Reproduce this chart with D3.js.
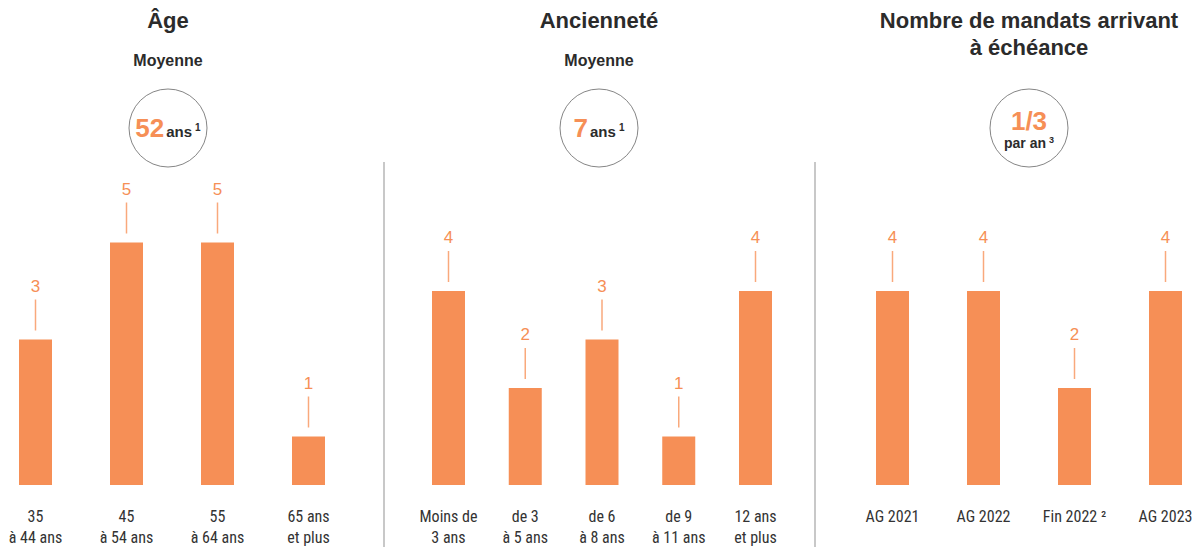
<!DOCTYPE html>
<html>
<head>
<meta charset="utf-8">
<script src="https://cdn.jsdelivr.net/npm/d3@7"></script>
<style>
  body { margin: 0; background: #fff; }
  text { font-family: "Liberation Sans", Arial, sans-serif; }
  .cat { font-family: "Liberation Sans Narrow", "Roboto Condensed", "Liberation Sans", sans-serif; font-stretch: condensed; font-size: 16px; fill: #333; }
</style>
</head>
<body>
<div id="vis"></div>
<script>
// data
var ageCats = ["35|à 44 ans", "45|à 54 ans", "55|à 64 ans", "65 ans|et plus"];
var ageVals = [3, 5, 5, 1];
var ancCats = ["Moins de|3 ans", "de 3|à 5 ans", "de 6|à 8 ans", "de 9|à 11 ans", "12 ans|et plus"];
var ancVals = [4, 2, 3, 1, 4];
var mandCats = ["AG 2021", "AG 2022", "Fin 2022 ²", "AG 2023"];
var mandVals = [4, 4, 2, 4];
var titles = [["Âge"], ["Ancienneté"], ["Nombre de mandats arrivant", "à échéance"]];

var width = 1199, height = 547;
var orange = "#f68f56", dark = "#2b2b2b";

var svg = d3.select("#vis").append("svg")
    .attr("width", width)
    .attr("height", height);

// shared value scale
var y = d3.scaleLinear().domain([0, 5]).range([485, 242.5]);
var barW = 33;

var panels = [
  {cats: ageCats, vals: ageVals, range: [35.5, 308.5], cx: 168, title: titles[0]},
  {cats: ancCats, vals: ancVals, range: [448.5, 755.5], cx: 599, title: titles[1]},
  {cats: mandCats, vals: mandVals, range: [892.5, 1165.5], cx: 1029, title: titles[2]}
];

// separators
[384, 815].forEach(function(sx) {
  svg.append("line")
    .attr("x1", sx).attr("x2", sx)
    .attr("y1", 162).attr("y2", height)
    .attr("stroke", "#c8c8c8").attr("stroke-width", 2);
});

panels.forEach(function(p, pi) {
  var x = d3.scalePoint().domain(p.cats).range(p.range);
  var data = p.cats.map(function(c, i) { return {cat: c, val: p.vals[i]}; });
  var g = svg.append("g");

  // title
  p.title.forEach(function(t, i) {
    g.append("text")
      .attr("x", p.cx).attr("y", 28 + i * 27)
      .attr("text-anchor", "middle")
      .attr("font-size", 22).attr("font-weight", "bold")
      .attr("fill", dark)
      .text(t);
  });
  if (pi < 2) {
    g.append("text")
      .attr("x", p.cx).attr("y", 66)
      .attr("text-anchor", "middle")
      .attr("font-size", 16).attr("font-weight", "bold")
      .attr("fill", dark)
      .text("Moyenne");
  }

  // circle
  g.append("circle")
    .attr("cx", p.cx).attr("cy", 128).attr("r", 39)
    .attr("fill", "none").attr("stroke", "#666").attr("stroke-width", 0.8);

  if (pi < 2) {
    var t = g.append("text")
      .attr("x", p.cx).attr("y", 137)
      .attr("text-anchor", "middle");
    t.append("tspan").attr("font-size", 26).attr("font-weight", "bold").attr("fill", orange)
      .text(pi === 0 ? "52" : "7");
    t.append("tspan").attr("font-size", 15).attr("font-weight", "bold").attr("fill", dark)
      .attr("dx", 2).text("ans");
    t.append("tspan").attr("font-size", 10).attr("font-weight", "bold").attr("fill", dark)
      .attr("dx", 3).attr("dy", -6).text("1");
  } else {
    g.append("text")
      .attr("x", p.cx).attr("y", 130)
      .attr("text-anchor", "middle")
      .attr("font-size", 26).attr("font-weight", "bold").attr("fill", orange)
      .text("1/3");
    var t2 = g.append("text")
      .attr("x", p.cx).attr("y", 148)
      .attr("text-anchor", "middle");
    t2.append("tspan").attr("font-size", 14).attr("font-weight", "bold").attr("fill", dark).text("par an");
    t2.append("tspan").attr("font-size", 9).attr("font-weight", "bold").attr("fill", dark)
      .attr("dx", 3).attr("dy", -5).text("3");
  }

  // bars
  g.selectAll("rect")
    .data(data)
    .enter()
    .append("rect")
      .attr("x", function(d) { return x(d.cat) - barW / 2; })
      .attr("y", function(d) { return y(d.val); })
      .attr("width", barW)
      .attr("height", function(d) { return y(0) - y(d.val); })
      .attr("fill", orange);

  // leader lines
  g.selectAll("line.lead")
    .data(data)
    .enter()
    .append("line")
      .attr("class", "lead")
      .attr("x1", function(d) { return x(d.cat); })
      .attr("x2", function(d) { return x(d.cat); })
      .attr("y1", function(d) { return y(d.val) - 40; })
      .attr("y2", function(d) { return y(d.val) - 9; })
      .attr("stroke", "#f9a97c").attr("stroke-width", 1.5);

  // value labels
  g.selectAll("text.val")
    .data(data)
    .enter()
    .append("text")
      .attr("class", "val")
      .attr("x", function(d) { return x(d.cat); })
      .attr("y", function(d) { return y(d.val) - 48; })
      .attr("text-anchor", "middle")
      .attr("font-size", 17).attr("fill", orange)
      .text(function(d) { return d.val; });

  // category labels
  var cl = g.selectAll("text.cat")
    .data(data)
    .enter()
    .append("text")
      .attr("class", "cat")
      .attr("text-anchor", "middle");
  cl.each(function(d) {
    var lines = d.cat.split("|");
    var el = d3.select(this);
    lines.forEach(function(l, i) {
      el.append("tspan")
        .attr("x", x(d.cat))
        .attr("y", 522 + i * 21)
        .text(l);
    });
  });
});
</script>
</body>
</html>
